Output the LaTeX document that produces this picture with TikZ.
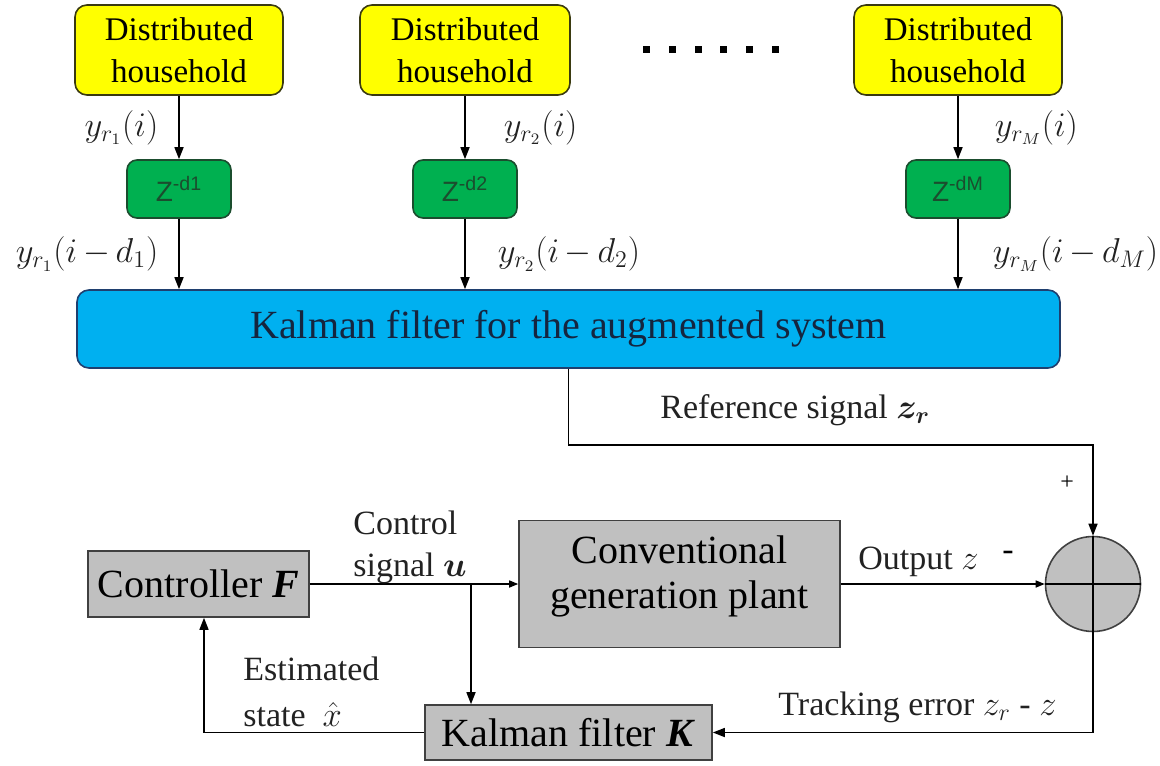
\documentclass[tikz,border=0pt]{standalone}
\usepackage{amsmath}
\usepackage{fontspec}
\setmainfont{Liberation Serif}
\setsansfont{Liberation Sans}
\usepackage{tikz}
\usetikzlibrary{arrows.meta,positioning,calc}
\definecolor{hhyellow}{HTML}{FFFF00}
\definecolor{hhedge}{HTML}{3A3A10}
\definecolor{delaygreen}{HTML}{00B050}
\definecolor{delayedge}{HTML}{1B4D2E}
\definecolor{kfblue}{HTML}{00B0F0}
\definecolor{kfedge}{HTML}{1F3F6F}
\definecolor{kftext}{HTML}{15253F}
\definecolor{plantgray}{HTML}{C0C0C0}
\definecolor{plantedge}{HTML}{404040}
\definecolor{labelgray}{HTML}{222222}

\begin{document}
\begin{tikzpicture}[
  x=0.5pt, y=-0.5pt,
  font=\rmfamily\fontsize{17}{21}\selectfont,
  house/.style={
    draw=hhedge,
    fill=hhyellow,
    rounded corners=6pt,
    line width=0.8pt,
    minimum width=104pt,
    minimum height=45pt,
    align=center,
    inner sep=0pt,
    font=\rmfamily\fontsize{16.5}{21}\selectfont
  },
  delay/.style={draw=delayedge,fill=delaygreen,rounded corners=5pt,line width=0.8pt,
    minimum width=52pt,minimum height=29pt,text=delayedge,font=\sffamily\fontsize{14}{14}\selectfont},
  augkf/.style={draw=kfedge,fill=kfblue,rounded corners=6pt,line width=0.8pt,
    minimum width=491.5pt,minimum height=39pt,text=kftext,font=\rmfamily\fontsize{20}{24}\selectfont},
  block/.style={draw=plantedge,fill=plantgray,line width=0.8pt,align=center,inner sep=0pt,
    font=\rmfamily\fontsize{20}{22.5}\selectfont},
  sumjoint/.style={circle,draw=plantedge,fill=plantgray,line width=0.8pt,minimum size=47.5pt,inner sep=0pt},
  flow/.style={-{Triangle[length=6pt,width=4.5pt]},line width=0.75pt},
  smallflow/.style={-{Triangle[length=4.5pt,width=3.5pt]},line width=0.75pt},
  wire/.style={line width=0.75pt},
  sig/.style={inner sep=0pt,align=left,text=labelgray},
  ylab/.style={sig,font=\rmfamily\fontsize{16.5}{19}\selectfont}
]
  \useasboundingbox (0,0) rectangle (1160,765);

  \node[house] (hh1) at (179,50) {Distributed\\household};
  \node[house,minimum width=105pt] (hh2) at (465,50) {Distributed\\household};
  \node[house] (hh3) at (958,50) {Distributed\\household};
  \foreach \i in {0,...,5}
    \fill (643+\i*25.8,46.5) rectangle ++(7,7);

  \node[delay] (z1) at (179,189) {Z\textsuperscript{-d1}};
  \node[delay] (z2) at (465,189) {Z\textsuperscript{-d2}};
  \node[delay] (z3) at (958,189) {Z\textsuperscript{-dM}};

  \node[augkf] (aug) at (568.5,329) {Kalman filter for the augmented system};

  \node[block,minimum width=110.5pt,minimum height=33pt] (ctrl) at (198.5,584) {Controller \textbf{\textit{F}}};
  \node[block,minimum width=160.5pt,minimum height=63.5pt,text depth=12pt] (plant) at (679.5,584) {Conventional\\generation plant};
  \node[block,minimum width=143.5pt,minimum height=27.5pt] (kfk) at (568.5,732.5) {Kalman filter \textbf{\textit{K}}};
  \node[sumjoint] (sum) at (1093,584) {};
  \draw[wire] (sum.west) -- (sum.east);
  \draw[wire] (sum.north) -- (sum.south);

  \coordinate (reflevel) at (0,445);
  \coordinate (tap) at (471,584);

  \draw[flow] (hh1) -- node[ylab,left=10pt]{$y_{r_1}(i)$} (z1);
  \draw[flow] (z1) -- node[ylab,left=10pt]{$y_{r_1}(i\,{-}\,d_1)$} (z1 |- aug.north);
  \draw[flow] (hh2) -- node[ylab,right=19pt]{$y_{r_2}(i)$} (z2);
  \draw[flow] (z2) -- node[ylab,right=16pt]{$y_{r_2}(i\,{-}\,d_2)$} (z2 |- aug.north);
  \draw[flow] (hh3) -- node[ylab,right=18pt]{$y_{r_M}(i)$} (z3);
  \draw[flow] (z3) -- node[ylab,right=17pt]{$y_{r_M}(i\,{-}\,d_M)$} (z3 |- aug.north);

  \draw[flow] (aug.south) -- (aug.south |- reflevel) -| (sum.north);
  \node[sig,anchor=west] (reflab) at (660,410) {Reference signal $\boldsymbol{z_r}$};
  \node[inner sep=0pt] (plus) at (1067,483) {\fontsize{12}{12}\selectfont +};
  \node[inner sep=0pt] (minus) at (1008,556) {-};

  \draw[smallflow] (ctrl) -- (plant);
  \draw[flow] (tap) -- (tap |- kfk.north);
  \draw[smallflow] (plant) -- (sum);
  \draw[flow] (sum.south) |- (kfk.east);
  \draw[flow] (kfk.west) -| ([xshift=2.75pt]ctrl.south);

  \node[sig,anchor=west] (ctrllab) at (353,547) {Control\\signal $\boldsymbol{u}$};
  \node[sig,anchor=west] (outlab) at (858,562) {Output $z$};
  \node[sig,anchor=west] (errlab) at (778,707) {Tracking error $z_r$ - $z$};
  \node[sig,anchor=west,font=\rmfamily\fontsize{17}{23}\selectfont] (estlab) at (243,692) {Estimated\\state \ $\hat{x}$};
\end{tikzpicture}
\end{document}
